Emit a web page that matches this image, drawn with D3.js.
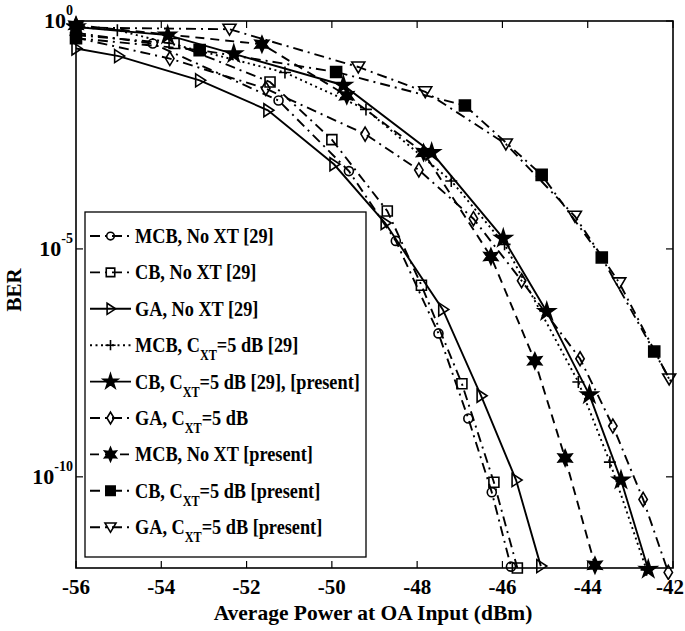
<!DOCTYPE html>
<html><head><meta charset="utf-8">
<script src="https://cdn.jsdelivr.net/npm/d3@7"></script>
<style>
body{margin:0;background:#fff}
svg{display:block}
text{font-family:"Liberation Serif","Times New Roman",serif;font-weight:bold;fill:#000}
</style>
</head><body>
<script>
// ---- data ----
const xTicks = [-56, -54, -52, -50, -48, -46, -44, -42];
const yTickExps = [0, -5, -10];
const xLabel = "Average Power at OA Input (dBm)";
const yLabel = "BER";

const mcbNoXT29_x = [-56, -54.2, -51.25, -49.6, -48.5, -47.5, -46.8, -46.25, -45.8];
const mcbNoXT29_y = [0.55, 0.32, 0.018, 5.1e-4, 1.5e-5, 1.4e-7, 1.9e-9, 4.6e-11, 1.07e-12];

const cbNoXT29_x = [-56, -53.7, -51.45, -50, -48.7, -47.9, -46.95, -46.2, -45.65];
const cbNoXT29_y = [0.49, 0.32, 0.046, 2.5e-3, 6.8e-5, 1.6e-6, 1.1e-8, 7.6e-11, 1.0e-12];

const gaNoXT29_x = [-56, -55, -53.1, -51.5, -49.95, -48.75, -47.4, -46.5, -45.68, -45.1];
const gaNoXT29_y = [0.25, 0.17, 0.05, 0.011, 7.2e-4, 3.7e-5, 4.7e-7, 6.0e-9, 8.5e-11, 1.1e-12];

const mcbXT29_x = [-56, -55.03, -51.1, -49.2, -47.2, -45.95, -44.22, -43.48, -42.62];
const mcbXT29_y = [0.74, 0.63, 0.074, 0.0115, 3.1e-4, 1.26e-5, 1.2e-8, 2.1e-10, 9.1e-13];

const cbXT29_x = [-56, -53.85, -52.3, -49.73, -47.66, -45.98, -44.96, -43.96, -43.22, -42.58];
const cbXT29_y = [0.74, 0.49, 0.19, 0.039, 1.3e-3, 1.7e-5, 4.2e-7, 6.3e-9, 8.5e-11, 9.3e-13];

const gaXT_x = [-56, -53.8, -51.55, -49.22, -47.96, -46.68, -45.55, -44.18, -43.41, -42.7, -42.11];
const gaXT_y = [0.43, 0.15, 0.033, 3.3e-3, 5.4e-4, 4.6e-5, 2.0e-6, 3.9e-8, 1.3e-9, 3.2e-11, 8e-13];

const mcbNoXTp_x = [-56, -51.64, -49.65, -47.85, -46.27, -45.24, -44.53, -43.83];
const mcbNoXTp_y = [0.81, 0.31, 0.023, 1.3e-3, 6.8e-6, 3.5e-8, 2.6e-10, 1.15e-12];

const cbXTp_x = [-56, -53.1, -49.9, -46.88, -45.08, -43.67, -42.44, -41.5];
const cbXTp_y = [0.42, 0.23, 0.076, 0.014, 4.2e-4, 6.5e-6, 5.6e-8, 1.5e-9];

const gaXTp_x = [-56, -52.4, -49.38, -47.81, -45.92, -44.3, -43.26, -42.09];
const gaXTp_y = [0.72, 0.66, 0.098, 0.028, 2.0e-3, 5.2e-5, 1.8e-6, 1.4e-8];

const legendLabels = [
  ["MCB, No XT [29]"],
  ["CB, No XT [29]"],
  ["GA, No XT [29]"],
  ["MCB, C", "XT", "=5 dB [29]"],
  ["CB, C", "XT", "=5 dB [29], [present]"],
  ["GA, C", "XT", "=5 dB"],
  ["MCB, No XT [present]"],
  ["CB, C", "XT", "=5 dB  [present]"],
  ["GA, C", "XT", "=5 dB [present]"]
];

const series = [
  {xs: mcbNoXT29_x, ys: mcbNoXT29_y, dash: "dashdot", mk: "circle"},
  {xs: cbNoXT29_x,  ys: cbNoXT29_y,  dash: "dashdot", mk: "square"},
  {xs: gaNoXT29_x,  ys: gaNoXT29_y,  dash: "solid",   mk: "triR"},
  {xs: mcbXT29_x,   ys: mcbXT29_y,   dash: "dotted",  mk: "plus"},
  {xs: cbXT29_x,    ys: cbXT29_y,    dash: "solid",   mk: "penta"},
  {xs: gaXT_x,      ys: gaXT_y,      dash: "dashdot", mk: "diamond"},
  {xs: mcbNoXTp_x,  ys: mcbNoXTp_y,  dash: "dashed",  mk: "hexa"},
  {xs: cbXTp_x,     ys: cbXTp_y,     dash: "dashdot", mk: "fsquare"},
  {xs: gaXTp_x,     ys: gaXTp_y,     dash: "dashdot", mk: "triD"}
];

// ---- layout ----
const W = 685, H = 631;
const L = 76, R = 673, T = 21, B = 568;
const svg = d3.select("body").append("svg").attr("width", W).attr("height", H);
const x = d3.scaleLinear().domain([-56, -42]).range([L, R]);
const y = d3.scaleLog().domain([1e-12, 1]).range([B, T]);

const defs = svg.append("defs");
defs.append("clipPath").attr("id", "clipL").append("rect")
  .attr("x", L).attr("y", T - 2).attr("width", R - L).attr("height", B - T + 4);
defs.append("clipPath").attr("id", "clipM").append("rect")
  .attr("x", L - 10).attr("y", T - 12).attr("width", R - L + 18).attr("height", B - T + 24);

const dashes = {solid: null, dashdot: "10,5,2,5", dashed: "9,6", dotted: "2,3.5"};

function star(n, ro, ri) {
  const p = [];
  for (let i = 0; i < 2 * n; i++) {
    const a = -Math.PI / 2 + i * Math.PI / n;
    const r = i % 2 ? ri : ro;
    p.push([r * Math.cos(a), r * Math.sin(a)]);
  }
  return "M" + p.map(d => d[0].toFixed(2) + "," + d[1].toFixed(2)).join("L") + "Z";
}
const markerDefs = {
  circle: {d: "M-4.5,0A4.5,4.5 0 1,0 4.5,0A4.5,4.5 0 1,0 -4.5,0Z", fill: "none"},
  square: {d: "M-5,-5H5V5H-5Z", fill: "none"},
  fsquare: {d: "M-5.5,-5.5H5.5V5.5H-5.5Z", fill: "#000"},
  triR: {d: "M-4,-6.5L6,0L-4,6.5Z", fill: "none"},
  triD: {d: "M-6.5,-5H6.5L0,6Z", fill: "none"},
  plus: {d: "M-6,0H6M0,-6V6", fill: "none"},
  diamond: {d: "M0,-7L4.2,0L0,7L-4.2,0Z", fill: "none"},
  penta: {d: star(5, 9, 3.4), fill: "#000"},
  hexa: {d: star(6, 8, 4), fill: "#000"}
};

function drawMarker(g, type, cx, cy, k) {
  const m = markerDefs[type];
  g.append("path").attr("d", m.d).attr("transform", `translate(${cx},${cy}) scale(${k || 1})`)
    .attr("fill", m.fill).attr("stroke", "#000").attr("stroke-width", 1.6 / (k || 1));
}

// ---- frame & ticks ----
const frame = svg.append("g");
frame.append("rect").attr("x", L).attr("y", T).attr("width", R - L).attr("height", B - T)
  .attr("fill", "none").attr("stroke", "#000").attr("stroke-width", 1.6);

xTicks.forEach(v => {
  const px = x(v);
  frame.append("line").attr("x1", px).attr("x2", px).attr("y1", B).attr("y2", B - 7).attr("stroke", "#000").attr("stroke-width", 1.2);
  frame.append("line").attr("x1", px).attr("x2", px).attr("y1", T).attr("y2", T + 7).attr("stroke", "#000").attr("stroke-width", 1.2);
  const t = frame.append("text").attr("x", px).attr("y", 594).attr("text-anchor", "middle")
    .attr("font-size", 21).text(v);
  const w = t.node().getComputedTextLength();
  if (px + w / 2 > W - 1) t.attr("x", W - 1 - w / 2);
});
yTickExps.forEach(e => {
  const py = y(Math.pow(10, e));
  frame.append("line").attr("x1", L).attr("x2", L + 7).attr("y1", py).attr("y2", py).attr("stroke", "#000").attr("stroke-width", 1.2);
  frame.append("line").attr("x1", R).attr("x2", R - 7).attr("y1", py).attr("y2", py).attr("stroke", "#000").attr("stroke-width", 1.2);
  const t = frame.append("text").attr("x", 73).attr("y", py + 7).attr("text-anchor", "end").attr("font-size", 22);
  t.append("tspan").text("10");
  t.append("tspan").attr("dy", -13).attr("font-size", 14).text(String(e));
});

svg.append("text").attr("x", 373).attr("y", 620).attr("text-anchor", "middle")
  .attr("font-size", 21.5).text(xLabel);
svg.append("text").attr("transform", "translate(21,290) rotate(-90)").attr("text-anchor", "middle")
  .attr("font-size", 21).text(yLabel);

// ---- series ----
const lineGen = d3.line().x(d => x(d[0])).y(d => y(d[1]));
const gl = svg.append("g").attr("clip-path", "url(#clipL)");
const gm = svg.append("g").attr("clip-path", "url(#clipM)");
series.forEach(s => {
  const pts = s.xs.map((v, i) => [v, s.ys[i]]);
  gl.append("path").attr("d", lineGen(pts)).attr("fill", "none").attr("stroke", "#000")
    .attr("stroke-width", 1.9).attr("stroke-dasharray", dashes[s.dash]);
  pts.forEach(p => drawMarker(gm, s.mk, x(p[0]), y(p[1])));
});

// ---- legend ----
const lg = svg.append("g");
const lx = 85, ly = 212, lw = 281, lh = 345;
lg.append("rect").attr("x", lx).attr("y", ly).attr("width", lw).attr("height", lh)
  .attr("fill", "#fff").attr("stroke", "#000").attr("stroke-width", 1.3);
series.forEach((s, i) => {
  const cy = ly + 24 + i * 36.4;
  lg.append("line").attr("x1", lx + 5).attr("x2", lx + 46).attr("y1", cy).attr("y2", cy)
    .attr("stroke", "#000").attr("stroke-width", 1.9).attr("stroke-dasharray", dashes[s.dash]);
  drawMarker(lg, s.mk, lx + 25.5, cy, 0.85);
  const parts = legendLabels[i];
  const t = lg.append("text").attr("transform", `translate(${lx + 50},${cy + 7}) scale(0.87,1)`)
    .attr("font-size", 21);
  t.append("tspan").text(parts[0]);
  if (parts.length > 1) {
    t.append("tspan").attr("dy", 8).attr("font-size", 14).text(parts[1]);
    t.append("tspan").attr("dy", -8).text(parts[2]);
  }
});
</script>
</body></html>
